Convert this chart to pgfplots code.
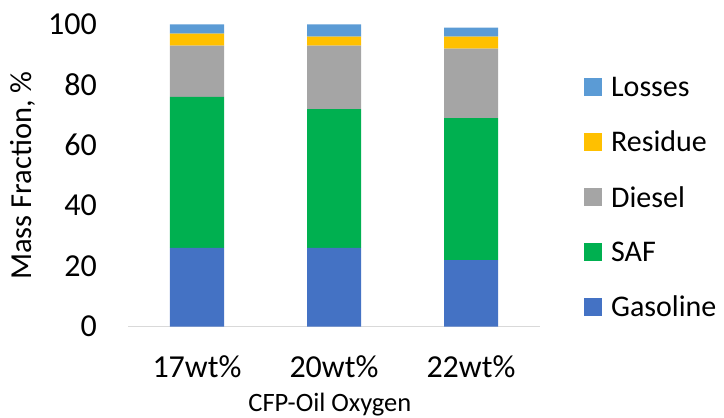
\documentclass[border=0pt]{standalone}
\usepackage{fontspec}
\setmainfont{Carlito}
\usepackage{pgfplots}
\pgfplotsset{compat=1.18}
\definecolor{cGas}{HTML}{4472C4}
\definecolor{cSAF}{HTML}{00B050}
\definecolor{cDie}{HTML}{A5A5A5}
\definecolor{cRes}{HTML}{FFC000}
\definecolor{cLos}{HTML}{5B9BD5}
\definecolor{cAx}{HTML}{D9D9D9}
\pgfplotsset{sq/.style={legend image code/.code={\fill[##1] (0pt,-9pt) rectangle (18pt,9pt);}}}
\begin{document}
\begin{tikzpicture}
\begin{axis}[
  scale only axis, width=411pt, height=302pt,
  ybar stacked, bar width=54pt,
  xmin=-0.5, xmax=2.5, ymin=0, ymax=100,
  xtick={0,1,2}, xticklabels={17wt\%,20wt\%,22wt\%},
  ytick={0,20,...,100},
  axis x line=bottom, axis y line=left,
  x axis line style={draw=cAx, line width=1pt, -},
  y axis line style={draw=none, -},
  major tick length=0pt,
  /pgf/number format/assume math mode=true,
  tick label style={font=\fontsize{32}{38}\selectfont, inner sep=0pt},
  yticklabel style={anchor=east, xshift=-31.5pt},
  xticklabel style={anchor=center, yshift=-40pt},
  xlabel={CFP-Oil Oxygen},
  xlabel style={at={(axis description cs:0.49,-0.2821)}, anchor=base, inner sep=0pt, font=\fontsize{26.5}{31}\selectfont},
  ylabel={Mass Fraction, \%},
  ylabel style={at={(axis description cs:-0.2355,0.5)}, anchor=base, inner sep=0pt, font=\fontsize{30.5}{36}\selectfont},
  legend cell align=left,
  reverse legend,
  legend style={draw=none, fill=none, at={(axis description cs:1.108,0.427)}, anchor=west, inner sep=0pt, row sep=33.2pt, font=\fontsize{30}{36}\selectfont, nodes={inner sep=0pt}, /tikz/every odd column/.append style={column sep=9pt}},
]
\addplot[fill=cGas, draw=none, sq] coordinates {(0,26) (1,26) (2,22)};
\addplot[fill=cSAF, draw=none, sq] coordinates {(0,50) (1,46) (2,47)};
\addplot[fill=cDie, draw=none, sq] coordinates {(0,17) (1,21) (2,23)};
\addplot[fill=cRes, draw=none, sq] coordinates {(0,4) (1,3) (2,4)};
\addplot[fill=cLos, draw=none, sq] coordinates {(0,3) (1,4) (2,3)};
\legend{Gasoline,SAF,Diesel,Residue,Losses}
\end{axis}
\pgfresetboundingbox
\path ([xshift=-128.5pt,yshift=-90.5pt]current axis.south west) rectangle ([xshift=184.5pt,yshift=24.5pt]current axis.north east);
\end{tikzpicture}
\end{document}
